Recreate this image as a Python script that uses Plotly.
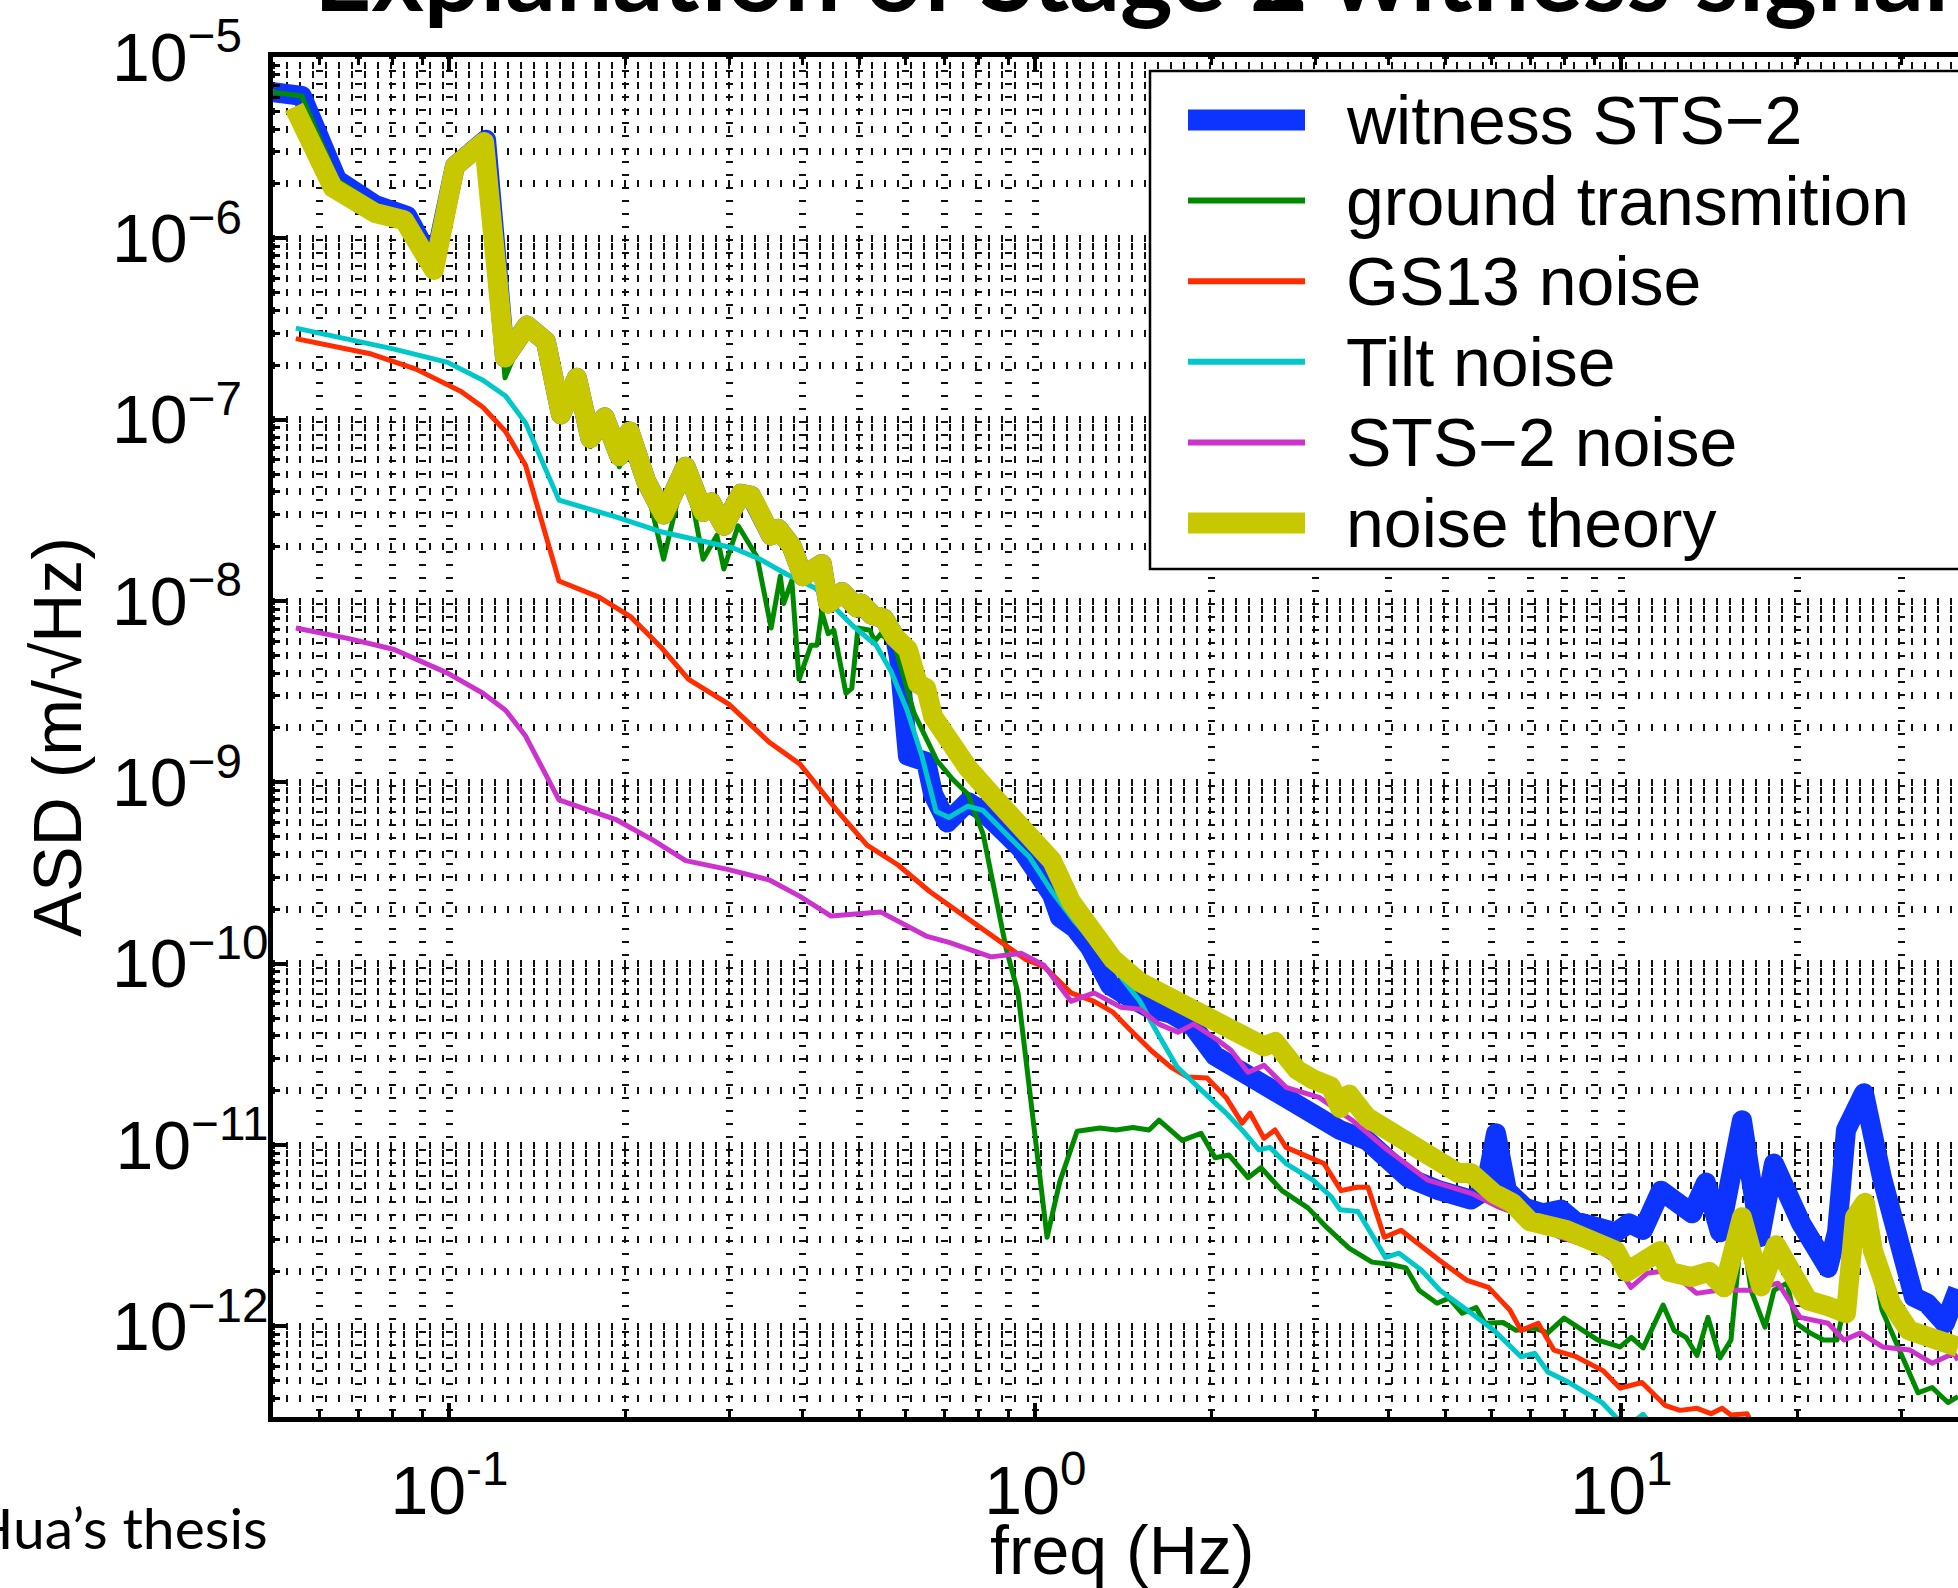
import plotly.graph_objects as go

# ---------------- data ----------------
witness_freq = [0.05, 0.056, 0.0643, 0.0747, 0.0847, 0.0941, 0.1022, 0.1155, 0.1244, 0.1356, 0.1461, 0.155, 0.165, 0.174, 0.184, 0.195, 0.203, 0.2165, 0.232, 0.253, 0.271, 0.2795, 0.294, 0.3145, 0.327, 0.335, 0.354, 0.364, 0.384, 0.401, 0.432, 0.443, 0.468, 0.496, 0.504, 0.526, 0.5515, 0.576, 0.585, 0.606, 0.651, 0.669, 0.707, 0.767, 0.814, 0.891, 0.945, 1.006, 1.067, 1.101, 1.168, 1.239, 1.341, 1.405, 1.563, 1.703, 1.858, 2.026, 2.306, 2.494, 2.677, 3.036, 3.31, 3.681, 3.966, 4.323, 4.902, 5.536, 5.85, 6.11, 6.38, 6.85, 7.35, 7.89, 8.33, 9.27, 9.79, 10.3, 10.89, 11.68, 12.3, 13.2, 13.94, 14.73, 16.06, 17.24, 18.21, 19.17, 20.26, 22.52, 23.33, 24.17, 25.94, 27.84, 29.88, 31.57, 33.23, 35.66, 37.53]
witness_asd = [6.4e-6, 6.1e-6, 2.1e-6, 1.53e-6, 1.33e-6, 7.1e-7, 2.5e-6, 3.5e-6, 2.2e-7, 3.3e-7, 2.7e-7, 1.07e-7, 1.7e-7, 7.9e-8, 1.03e-7, 6.3e-8, 8.6e-8, 4.6e-8, 3.0e-8, 5.5e-8, 3.1e-8, 3.5e-8, 2.6e-8, 3.9e-8, 3.8e-8, 3.3e-8, 2.3e-8, 2.5e-8, 2.0e-8, 1.37e-8, 1.6e-8, 9.7e-9, 1.12e-8, 9.2e-9, 9.7e-9, 8.4e-9, 8.0e-9, 6.3e-9, 4.9e-9, 1.4e-9, 1.3e-9, 8.6e-10, 6.0e-10, 7.8e-10, 6.9e-10, 5.2e-10, 4.3e-10, 3.2e-10, 2.4e-10, 1.8e-10, 1.57e-10, 1.23e-10, 7.6e-11, 6.9e-11, 5.7e-11, 5.3e-11, 4.5e-11, 3.1e-11, 2.4e-11, 2.0e-11, 1.77e-11, 1.42e-11, 1.21e-11, 1.06e-11, 8.2e-12, 6.6e-12, 5.6e-12, 5.0e-12, 5.6e-12, 1.16e-11, 5.6e-12, 4.5e-12, 4.2e-12, 4.4e-12, 3.8e-12, 3.5e-12, 3.3e-12, 3.7e-12, 3.4e-12, 5.6e-12, 4.8e-12, 4.2e-12, 6.2e-12, 3.3e-12, 1.37e-11, 3.1e-12, 7.9e-12, 5.2e-12, 3.7e-12, 2.1e-12, 3.3e-12, 1.21e-11, 1.93e-11, 6.6e-12, 3.1e-12, 1.45e-12, 1.34e-12, 1.04e-12, 1.6e-12]

ground_freq = [0.05, 0.056, 0.0643, 0.0747, 0.0847, 0.0941, 0.1022, 0.1155, 0.1244, 0.1356, 0.1461, 0.155, 0.165, 0.174, 0.184, 0.195, 0.203, 0.2165, 0.232, 0.253, 0.271, 0.286, 0.294, 0.311, 0.335, 0.354, 0.367, 0.372, 0.384, 0.395, 0.414, 0.424, 0.432, 0.443, 0.453, 0.475, 0.486, 0.498, 0.522, 0.532, 0.545, 0.576, 0.621, 0.679, 0.7225, 0.767, 0.814, 0.853, 0.891, 0.934, 0.960, 1.047, 1.101, 1.178, 1.289, 1.373, 1.467, 1.563, 1.625, 1.78, 1.917, 2.026, 2.14, 2.306, 2.427, 2.635, 2.918, 3.145, 3.429, 3.753, 4.03, 4.29, 4.515, 4.846, 5.08, 5.35, 5.65, 5.85, 6.28, 6.61, 7.09, 7.49, 7.98, 8.64, 9.12, 9.95, 10.4, 10.89, 11.78, 12.3, 12.89, 13.46, 14.05, 14.73, 15.38, 16.06, 16.64, 17.58, 18.21, 19.17, 19.86, 20.98, 22.13, 23.33, 24.55, 25.94, 27.84, 29.88, 32.07, 33.89, 36.08, 37.53]
ground_asd = [6.4e-6, 6.1e-6, 2.1e-6, 1.53e-6, 1.33e-6, 7.1e-7, 2.5e-6, 3.5e-6, 1.7e-7, 3.3e-7, 2.7e-7, 1.0e-7, 1.7e-7, 7.1e-8, 1.03e-7, 5.5e-8, 8.6e-8, 4.4e-8, 1.7e-8, 5.5e-8, 1.7e-8, 2.3e-8, 1.5e-8, 2.6e-8, 1.75e-8, 7.1e-9, 1.37e-8, 9.7e-9, 1.3e-8, 3.7e-9, 5.7e-9, 5.7e-9, 8.7e-9, 6.6e-9, 6.9e-9, 3.1e-9, 3.3e-9, 7.1e-9, 6.9e-9, 6.0e-9, 6.6e-9, 5.6e-9, 2.4e-9, 1.32e-9, 1.04e-9, 8.6e-10, 5.2e-10, 2.5e-10, 1.22e-10, 6.9e-11, 3.3e-11, 3.1e-12, 6.3e-12, 1.19e-11, 1.24e-11, 1.21e-11, 1.25e-11, 1.21e-11, 1.37e-11, 1.06e-11, 1.16e-11, 8.5e-12, 8.8e-12, 6.6e-12, 7.5e-12, 5.6e-12, 4.5e-12, 3.5e-12, 2.7e-12, 2.26e-12, 2.2e-12, 2.1e-12, 1.58e-12, 1.34e-12, 1.43e-12, 1.18e-12, 1.27e-12, 1.04e-12, 1.05e-12, 9.5e-13, 9.8e-13, 9.2e-13, 1.11e-12, 9.5e-13, 8.4e-13, 7.7e-13, 8.7e-13, 7.6e-13, 1.31e-12, 9.5e-13, 8.7e-13, 6.9e-13, 1.12e-12, 6.7e-13, 8.4e-13, 3.6e-12, 1.58e-12, 9.9e-13, 1.58e-12, 1.73e-12, 1.04e-12, 9.2e-13, 8.4e-13, 8.4e-13, 1.8e-12, 4.2e-12, 1.23e-12, 7.4e-13, 4.3e-13, 4.6e-13, 3.8e-13, 4.1e-13]

gs13_freq = [0.0547, 0.0736, 0.0877, 0.1047, 0.1141, 0.1247, 0.1349, 0.1538, 0.180, 0.2037, 0.2304, 0.256, 0.2997, 0.351, 0.3965, 0.457, 0.516, 0.583, 0.660, 0.743, 0.865, 0.960, 1.036, 1.150, 1.259, 1.356, 1.442, 1.579, 1.703, 1.819, 1.963, 2.115, 2.252, 2.324, 2.455, 2.564, 2.677, 2.918, 3.108, 3.323, 3.538, 3.695, 3.94, 4.207, 4.48, 4.885, 5.44, 5.93, 6.45, 6.74, 7.21, 7.67, 8.37, 9.30, 9.95, 10.84, 11.87, 12.59, 13.46, 14.22, 14.85, 15.38, 16.38, 17.24]
gs13_asd = [2.8e-7, 2.3e-7, 1.9e-7, 1.43e-7, 1.17e-7, 8.6e-8, 5.6e-8, 1.29e-8, 1.05e-8, 8.2e-9, 5.5e-9, 3.7e-9, 2.7e-9, 1.67e-9, 1.26e-9, 7.1e-10, 4.5e-10, 3.5e-10, 2.5e-10, 1.9e-10, 1.35e-10, 1.06e-10, 9.6e-11, 6.9e-11, 6.2e-11, 5.4e-11, 4.4e-11, 3.3e-11, 2.69e-11, 2.37e-11, 2.34e-11, 1.83e-11, 1.32e-11, 1.5e-11, 1.09e-11, 1.21e-11, 9.7e-12, 8.6e-12, 7.9e-12, 5.6e-12, 5.85e-12, 5.85e-12, 3.1e-12, 3.39e-12, 2.87e-12, 2.32e-12, 1.8e-12, 1.64e-12, 1.23e-12, 9.5e-13, 1.04e-12, 7.4e-13, 6.8e-13, 5.7e-13, 4.56e-13, 4.9e-13, 3.67e-13, 3.44e-13, 3.53e-13, 3.3e-13, 3.53e-13, 3.24e-13, 3.3e-13, 2.35e-13]

tilt_freq = [0.0547, 0.0805, 0.0993, 0.1141, 0.1247, 0.1349, 0.1538, 0.193, 0.2306, 0.305, 0.339, 0.377, 0.4207, 0.453, 0.488, 0.535, 0.567, 0.604, 0.640, 0.677, 0.712, 0.767, 0.814, 0.891, 0.975, 1.067, 1.168, 1.279, 1.40, 1.508, 1.625, 1.744, 1.898, 2.115, 2.252, 2.408, 2.514, 2.677, 2.977, 3.195, 3.31, 3.552, 3.958, 4.174, 4.56, 4.902, 5.45, 6.06, 6.74, 7.11, 7.49, 8.05, 9.27, 9.79, 10.3, 10.89, 11.41, 13.62]
tilt_asd = [3.2e-7, 2.45e-7, 2.07e-7, 1.65e-7, 1.35e-7, 9.6e-8, 3.6e-8, 2.9e-8, 2.4e-8, 1.96e-8, 1.7e-8, 1.4e-8, 1.18e-8, 9.2e-9, 7.3e-9, 5.7e-9, 4.1e-9, 2.5e-9, 1.4e-9, 6.9e-10, 6.4e-10, 7.4e-10, 7.0e-10, 5.2e-10, 3.9e-10, 2.5e-10, 1.7e-10, 1.22e-10, 8.3e-11, 6.2e-11, 4.0e-11, 2.7e-11, 2.08e-11, 1.5e-11, 1.21e-11, 9.4e-12, 9.7e-12, 7.9e-12, 6.4e-12, 5.2e-12, 4.4e-12, 4.3e-12, 2.4e-12, 2.53e-12, 2.04e-12, 1.58e-12, 1.23e-12, 9.5e-13, 6.8e-13, 7.1e-13, 5.6e-13, 5.0e-13, 3.8e-13, 3.15e-13, 2.85e-13, 3.27e-13, 2.7e-13, 1.8e-13]

sts2_freq = [0.0547, 0.0674, 0.0805, 0.0993, 0.1141, 0.1247, 0.1349, 0.1538, 0.193, 0.2226, 0.253, 0.2997, 0.351, 0.3965, 0.448, 0.544, 0.651, 0.712, 0.840, 0.947, 1.034, 1.150, 1.259, 1.40, 1.508, 1.625, 1.751, 1.862, 2.038, 2.157, 2.306, 2.455, 2.677, 3.048, 3.47, 3.94, 4.677, 5.56, 6.18, 6.61, 7.86, 8.94, 9.71, 10.38, 11.06, 12.06, 13.44, 14.61, 16.64, 18.5, 20.18, 22.52, 23.98, 25.6, 27.9, 31.08, 33.89, 36.9, 37.53]
sts2_asd = [7.1e-9, 6.2e-9, 5.4e-9, 4.0e-9, 3.1e-9, 2.5e-9, 1.8e-9, 8.0e-10, 6.2e-10, 4.8e-10, 3.7e-10, 3.3e-10, 2.9e-10, 2.35e-10, 1.83e-10, 1.93e-10, 1.42e-10, 1.31e-10, 1.09e-10, 1.14e-10, 9.8e-11, 6.2e-11, 6.9e-11, 5.75e-11, 5.6e-11, 4.64e-11, 4.19e-11, 4.64e-11, 3.83e-11, 3.33e-11, 2.52e-11, 2.75e-11, 2.08e-11, 1.83e-11, 1.37e-11, 9.7e-12, 6.4e-12, 5.4e-12, 4.54e-12, 4.2e-12, 3.1e-12, 2.73e-12, 2.32e-12, 1.64e-12, 1.96e-12, 2.04e-12, 1.52e-12, 1.58e-12, 1.58e-12, 1.73e-12, 1.12e-12, 1.04e-12, 8.4e-13, 9.2e-13, 7.7e-13, 7.4e-13, 6.26e-13, 7.1e-13, 6.5e-13]

theory_freq = [0.0543, 0.0633, 0.0747, 0.0837, 0.0941, 0.1022, 0.1146, 0.1244, 0.1356, 0.1461, 0.155, 0.165, 0.174, 0.184, 0.195, 0.203, 0.2165, 0.232, 0.253, 0.271, 0.2795, 0.294, 0.3145, 0.327, 0.335, 0.354, 0.364, 0.384, 0.401, 0.432, 0.443, 0.468, 0.496, 0.504, 0.526, 0.5515, 0.576, 0.606, 0.630, 0.651, 0.669, 0.712, 0.767, 0.840, 0.919, 0.991, 1.067, 1.150, 1.239, 1.356, 1.508, 1.625, 1.836, 2.010, 2.199, 2.455, 2.564, 2.795, 2.977, 3.195, 3.31, 3.429, 3.681, 4.093, 4.55, 4.902, 5.263, 5.536, 6.06, 6.51, 6.98, 8.05, 8.94, 9.79, 10.22, 10.97, 11.64, 12.06, 13.15, 14.11, 14.97, 16.06, 17.31, 18.36, 19.55, 20.82, 22.52, 24.17, 25.04, 26.04, 26.88, 28.85, 30.96, 33.23, 35.66, 37.53]
theory_asd = [5.3e-6, 1.9e-6, 1.38e-6, 1.26e-6, 6.7e-7, 2.5e-6, 3.4e-6, 2.2e-7, 3.3e-7, 2.7e-7, 1.07e-7, 1.7e-7, 7.9e-8, 1.03e-7, 6.3e-8, 8.6e-8, 4.6e-8, 3.0e-8, 5.5e-8, 3.1e-8, 3.5e-8, 2.6e-8, 3.9e-8, 3.8e-8, 3.3e-8, 2.3e-8, 2.5e-8, 2.0e-8, 1.37e-8, 1.6e-8, 9.7e-9, 1.12e-8, 9.2e-9, 9.7e-9, 8.4e-9, 8.0e-9, 6.3e-9, 5.4e-9, 3.5e-9, 3.3e-9, 2.3e-9, 1.7e-9, 1.2e-9, 8.6e-10, 6.4e-10, 5.0e-10, 3.7e-10, 2.2e-10, 1.57e-10, 1.06e-10, 7.9e-11, 6.9e-11, 5.9e-11, 4.9e-11, 4.2e-11, 3.5e-11, 3.7e-11, 2.6e-11, 2.3e-11, 2.1e-11, 1.6e-11, 1.9e-11, 1.42e-11, 1.16e-11, 9.0e-12, 7.9e-12, 7.0e-12, 7.0e-12, 5.4e-12, 4.8e-12, 3.8e-12, 3.4e-12, 3.0e-12, 2.6e-12, 2.0e-12, 2.3e-12, 2.6e-12, 2.0e-12, 1.87e-12, 2.0e-12, 1.64e-12, 4.0e-12, 1.66e-12, 2.8e-12, 1.87e-12, 1.39e-12, 1.29e-12, 1.18e-12, 4.0e-12, 4.8e-12, 2.6e-12, 1.34e-12, 9.5e-13, 8.6e-13, 8.3e-13, 7.7e-13]

series_names = ["witness STS\u22122", "ground transmition", "GS13 noise", "Tilt noise", "STS\u22122 noise", "noise theory"]
x_tick_vals = [0.1, 1, 10]
x_tick_text = ["10<sup>-1</sup>", "10<sup>0</sup>", "10<sup>1</sup>"]
y_exponents = [-5, -6, -7, -8, -9, -10, -11, -12]

title_text = "<b>Explanation of Stage 2 witness signal</b>"
xlabel_text = "freq (Hz)"
ylabel_text = "ASD (m/\u221aHz)"
credit_text = "Hua\u2019s thesis"

# ---------------- layout constants ----------------
W, H = 1958, 1588
ML, MR, MT, MB = 273, 0, 57, 171
PW = W - ML - MR
PH = H - MT - MB
PX_PER_DECADE_X = 586.0
X_LO = -1.30103
X_HI = X_LO + PW / PX_PER_DECADE_X


def px_x(px):
    return (px - ML) / PW


def px_y(py):
    return (H - MB - py) / PH


BLUE = "#0D33FF"
GREEN = "#008A00"
RED = "#FF2D00"
CYAN = "#00C8C8"
MAGENTA = "#CC33CC"
YELLOW = "#C8C800"

THICK, THIN = 20, 5
FONT = "Liberation Sans"

series = [
    (witness_freq, witness_asd, BLUE, THICK),
    (ground_freq, ground_asd, GREEN, THIN),
    (gs13_freq, gs13_asd, RED, THIN),
    (tilt_freq, tilt_asd, CYAN, THIN),
    (sts2_freq, sts2_asd, MAGENTA, THIN),
    (theory_freq, theory_asd, YELLOW, THICK),
]

fig = go.Figure()
for name, (f, v, col, lw) in zip(series_names, series):
    fig.add_trace(go.Scatter(x=f, y=v, mode="lines", name=name, showlegend=False,
                             line=dict(color=col, width=lw), hoverinfo="skip"))

# tick texts for y (pad one-digit exponents so the "10" bases line up)
y_tick_vals = [10.0 ** e for e in y_exponents]
y_tick_text = []
for e in y_exponents:
    pad = "\u2007" if abs(e) < 10 else ""
    y_tick_text.append("10<sup>\u2212%d%s</sup>" % (abs(e), pad))

x_minor = [m * 10.0 ** k for k in (-2, -1, 0, 1) for m in range(2, 10)]
y_minor = [m * 10.0 ** k for k in range(-13, -4) for m in range(2, 10)]

GRID_COL = "#111111"
grid_common = dict(gridcolor=GRID_COL, griddash="2px,11px")

fig.update_layout(
    width=W, height=H,
    margin=dict(l=ML, r=MR, t=MT, b=MB, pad=0),
    paper_bgcolor="white", plot_bgcolor="white",
    font=dict(family=FONT, size=68, color="black"),
    showlegend=False,
    xaxis=dict(
        type="log", range=[X_LO, X_HI],
        showline=True, linecolor="black", linewidth=5, mirror="ticks",
        ticks="inside", ticklen=14, tickwidth=4, tickcolor="black",
        tickmode="array", tickvals=x_tick_vals, ticktext=x_tick_text,
        tickfont=dict(family=FONT, size=68, color="black"),
        ticklabelstandoff=10,
        showgrid=True, gridwidth=7, **grid_common,
        minor=dict(tickmode="array", tickvals=x_minor, ticks="inside", ticklen=8,
                   tickwidth=3, tickcolor="black", showgrid=True, gridwidth=7,
                   **grid_common),
        zeroline=False,
    ),
    yaxis=dict(
        type="log", range=[-12.5, -5],
        showline=True, linecolor="black", linewidth=5, mirror=False,
        ticks="inside", ticklen=14, tickwidth=4, tickcolor="black",
        tickmode="array", tickvals=y_tick_vals, ticktext=y_tick_text,
        tickfont=dict(family=FONT, size=68, color="black"),
        ticklabelstandoff=-14,
        showgrid=True, gridwidth=7, **grid_common,
        minor=dict(tickmode="array", tickvals=y_minor, ticks="inside", ticklen=7,
                   tickwidth=3, tickcolor="black", showgrid=True, gridwidth=7,
                   **grid_common),
        zeroline=False,
    ),
)

# ---------------- legend (drawn as a box) ----------------
LEG_X0, LEG_X1, LEG_Y0, LEG_Y1 = 1150, 1975, 71, 569
fig.add_shape(type="rect", xref="paper", yref="paper",
              x0=px_x(LEG_X0), x1=px_x(LEG_X1), y0=px_y(LEG_Y1), y1=px_y(LEG_Y0),
              line=dict(color="black", width=2.5), fillcolor="white", layer="above")
for i, (name, (_, _, col, lw)) in enumerate(zip(series_names, series)):
    yc = 120 + i * 80.6
    fig.add_shape(type="line", xref="paper", yref="paper",
                  x0=px_x(1188), x1=px_x(1305), y0=px_y(yc), y1=px_y(yc),
                  line=dict(color=col, width=21 if lw == THICK else 6), layer="above")
    fig.add_annotation(xref="paper", yref="paper", x=px_x(1344), y=px_y(yc),
                       text=name, showarrow=False, xanchor="left", yanchor="middle",
                       font=dict(family=FONT, size=68, color="black"))

# ---------------- axis titles, title, credit ----------------
fig.add_annotation(xref="paper", yref="paper", x=px_x(1122), y=px_y(1550),
                   text=xlabel_text, showarrow=False, xanchor="center", yanchor="middle",
                   font=dict(family=FONT, size=68, color="black"))
fig.add_annotation(xref="paper", yref="paper", x=px_x(57), y=px_y(737),
                   text=ylabel_text, showarrow=False, textangle=-90,
                   xanchor="center", yanchor="middle",
                   font=dict(family=FONT, size=68, color="black"))
fig.add_annotation(xref="paper", yref="paper", x=px_x(312), y=px_y(34),
                   text=title_text, showarrow=False, xanchor="left", yanchor="bottom",
                   font=dict(family="Lato", size=100, color="black"))
fig.add_annotation(xref="paper", yref="paper", x=px_x(270), y=px_y(1563),
                   text=credit_text, showarrow=False, xanchor="right", yanchor="bottom",
                   font=dict(family="Lato", size=57, color="black"))

post = ("var s=document.createElement('style');"
        "s.innerHTML='body{margin:0;} .scatterlayer .js-line{stroke-linejoin:round !important;}';"
        "document.head.appendChild(s);")
fig.write_html("out.html", post_script=post, config={"displayModeBar": False})
